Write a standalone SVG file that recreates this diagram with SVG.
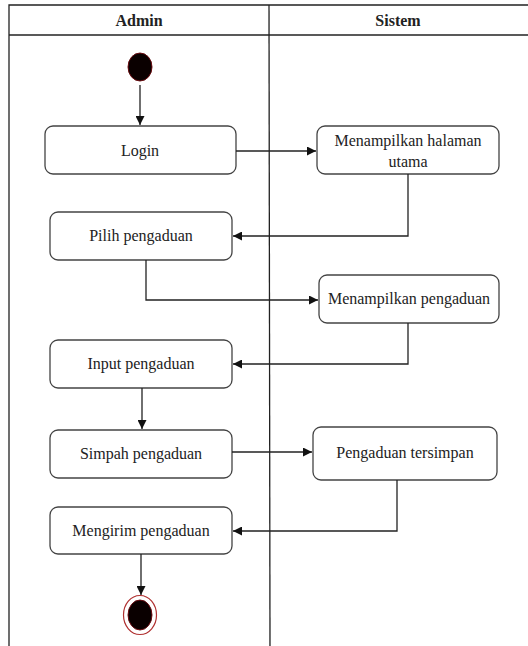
<svg xmlns="http://www.w3.org/2000/svg" width="528" height="646" viewBox="0 0 528 646">
  <style>
    .lane { fill: none; stroke: #222; stroke-width: 1.3; }
    .act rect { fill: #fff; stroke: #444; stroke-width: 1.3; }
    .act text, .hdr { font-family: 'Liberation Serif', 'DejaVu Serif', serif; font-size: 16px; fill: #222; text-anchor: middle; }
    .hdr { font-weight: bold; }
    .flow { fill: none; stroke: #222; stroke-width: 1.3; }
  </style>
  <defs>
    <marker id="arrow" viewBox="0 0 10 10" refX="10" refY="5" markerWidth="9" markerHeight="9" markerUnits="userSpaceOnUse" orient="auto">
      <path d="M0,0 L10,5 L0,10 Z" fill="#111"/>
    </marker>
  </defs>

  <rect width="528" height="646" fill="#fff"/>

  <!-- swimlanes -->
  <g id="lanes">
    <path class="lane" d="M9,646 V5 H528"/>
    <line class="lane" x1="9" y1="35" x2="528" y2="35"/>
    <line class="lane" x1="269" y1="5" x2="270" y2="646"/>
    <text class="hdr" x="139" y="26">Admin</text>
    <text class="hdr" x="398" y="26">Sistem</text>
  </g>

  <!-- start node -->
  <g id="start">
    <ellipse cx="140" cy="67" rx="12" ry="14" fill="#0a0000" stroke="#6a0c10" stroke-width="1"/>
  </g>

  <g id="login" class="act">
    <rect x="45" y="126" width="191" height="48" rx="8"/>
    <text x="140" y="156">Login</text>
  </g>

  <g id="halaman-utama" class="act">
    <rect x="317" y="126" width="182" height="48" rx="8"/>
    <text x="408" y="146">Menampilkan halaman</text>
    <text x="408" y="167">utama</text>
  </g>

  <g id="pilih" class="act">
    <rect x="50" y="212" width="182" height="48" rx="8"/>
    <text x="141" y="241">Pilih pengaduan</text>
  </g>

  <g id="tampil-pengaduan" class="act">
    <rect x="319" y="275" width="180" height="48" rx="8"/>
    <text x="409" y="304">Menampilkan pengaduan</text>
  </g>

  <g id="input" class="act">
    <rect x="50" y="340" width="182" height="48" rx="8"/>
    <text x="141" y="369">Input pengaduan</text>
  </g>

  <g id="simpah" class="act">
    <rect x="50" y="430" width="182" height="48" rx="8"/>
    <text x="141" y="459">Simpah pengaduan</text>
  </g>

  <g id="tersimpan" class="act">
    <rect x="313" y="427" width="184" height="53" rx="8"/>
    <text x="405" y="458">Pengaduan tersimpan</text>
  </g>

  <g id="mengirim" class="act">
    <rect x="50" y="507" width="182" height="47" rx="8"/>
    <text x="141" y="536">Mengirim pengaduan</text>
  </g>

  <!-- end node -->
  <g id="end">
    <ellipse cx="140" cy="615" rx="16.5" ry="19.5" fill="#fff" stroke="#b03030" stroke-width="1.2"/>
    <ellipse cx="140" cy="615" rx="12" ry="15" fill="#0a0000" stroke="#6a0c10" stroke-width="1"/>
  </g>

  <!-- control flows -->
  <g id="connectors">
    <path class="flow" d="M140,85 V125" marker-end="url(#arrow)"/>
    <path class="flow" d="M236,151 H316" marker-end="url(#arrow)"/>
    <path class="flow" d="M408,174 V236 H233" marker-end="url(#arrow)"/>
    <path class="flow" d="M146,260 V300 H318" marker-end="url(#arrow)"/>
    <path class="flow" d="M408,323 V364 H233" marker-end="url(#arrow)"/>
    <path class="flow" d="M142,388 V429" marker-end="url(#arrow)"/>
    <path class="flow" d="M232,452 H312" marker-end="url(#arrow)"/>
    <path class="flow" d="M397,480 V531 H233" marker-end="url(#arrow)"/>
    <path class="flow" d="M141,554 V595" marker-end="url(#arrow)"/>
  </g>
</svg>
